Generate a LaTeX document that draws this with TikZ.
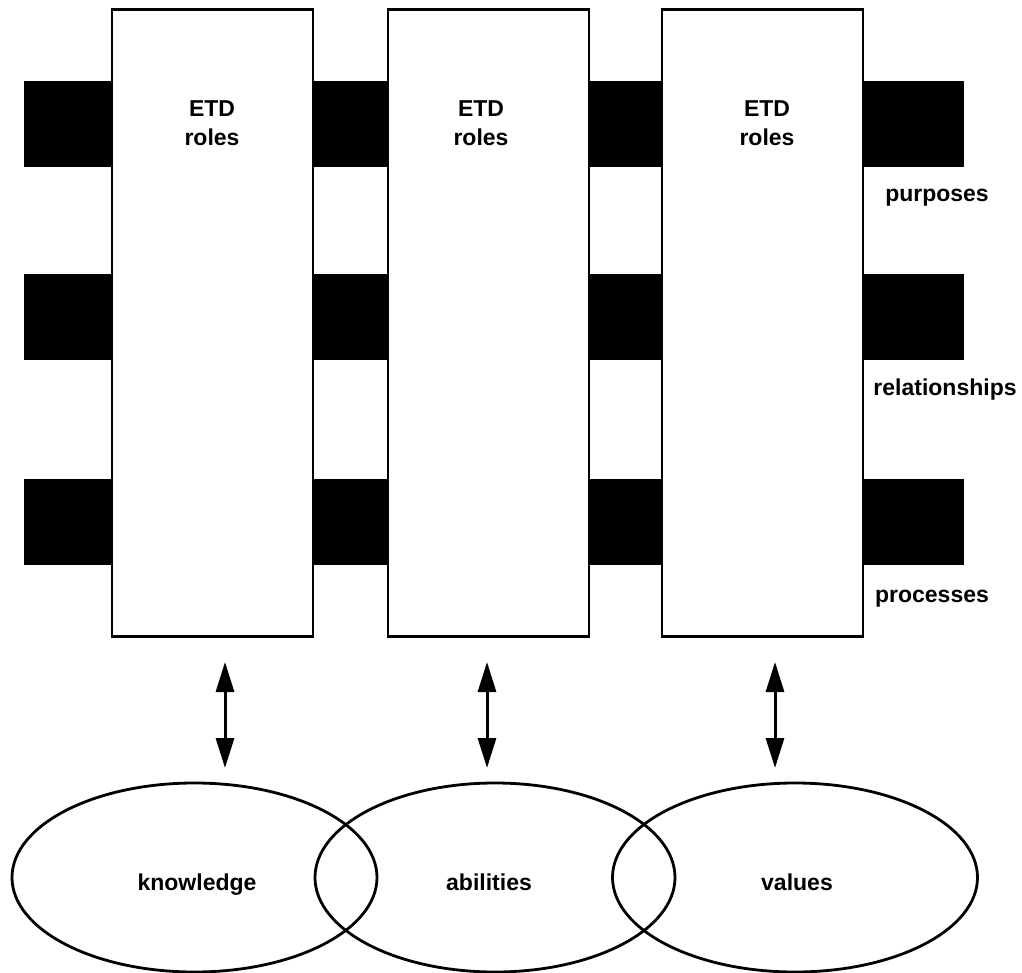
\documentclass[tikz,border=0pt]{standalone}
\usepackage{fontspec}
\setmainfont{Liberation Sans}
\usetikzlibrary{arrows.meta,shapes.geometric}

\tikzset{
  rolebox/.style={draw, line width=2.5pt, fill=white, minimum width=201pt,
    minimum height=627pt, inner sep=0pt},
  bar/.style={fill=black},
  roletext/.style={font=\fontsize{23}{29}\selectfont\bfseries, align=center,
    anchor=base, inner sep=0pt},
  sidelabel/.style={font=\fontsize{23}{28}\selectfont\bfseries, anchor=base,
    inner sep=0pt},
  field/.style={ellipse, draw, line width=2.8pt, minimum width=365pt,
    minimum height=189pt, inner sep=0pt},
  fieldtext/.style={font=\fontsize{23}{28}\selectfont\bfseries, anchor=base,
    inner sep=0pt},
  link/.style={line width=3pt, {Triangle[width=18pt,length=30pt]}-{Triangle[width=18pt,length=30pt]}}
}

\begin{document}
\begin{tikzpicture}[x=1pt, y=-1pt]
  \useasboundingbox (0,0) rectangle (1022,973);

  % horizontal bands running behind the role columns
  \fill[bar] (24,81)  rectangle (964,167);
  \fill[bar] (24,274) rectangle (964,360);
  \fill[bar] (24,479) rectangle (964,565);

  % role columns
  \node[rolebox] (role1) at (212.5,323) {};
  \node[rolebox] (role2) at (488.5,323) {};
  \node[rolebox] (role3) at (762.5,323) {};

  % the base anchor sits on the baseline of the second line
  \node[roletext] (r1t) at (212,146) {ETD\\roles};
  \node[roletext] (r2t) at (481,146) {ETD\\roles};
  \node[roletext] (r3t) at (767,146) {ETD\\roles};

  % band names
  \node[sidelabel] (purp) at (937,202) {purposes};
  \node[sidelabel] (rel)  at (945,395) {relationships};
  \node[sidelabel] (proc) at (932,602) {processes};

  % overlapping fields
  \node[field] (know) at (194.5,877.5) {};
  \node[field, minimum width=360pt] (abil) at (495,877.5) {};
  \node[field] (vals) at (795,877.5) {};

  \node[fieldtext] (knowt) at (197,890) {knowledge};
  \node[fieldtext] (abilt) at (489,890) {abilities};
  \node[fieldtext] (valst) at (797,890) {values};

  % two-way links between columns and fields
  \coordinate (a1t) at (225,662);  \coordinate (a1b) at (225,768);
  \coordinate (a2t) at (487,662);  \coordinate (a2b) at (487,768);
  \coordinate (a3t) at (775,662);  \coordinate (a3b) at (775,768);
  \draw[link] (a1t) -- (a1b);
  \draw[link] (a2t) -- (a2b);
  \draw[link] (a3t) -- (a3b);
\end{tikzpicture}
\end{document}
